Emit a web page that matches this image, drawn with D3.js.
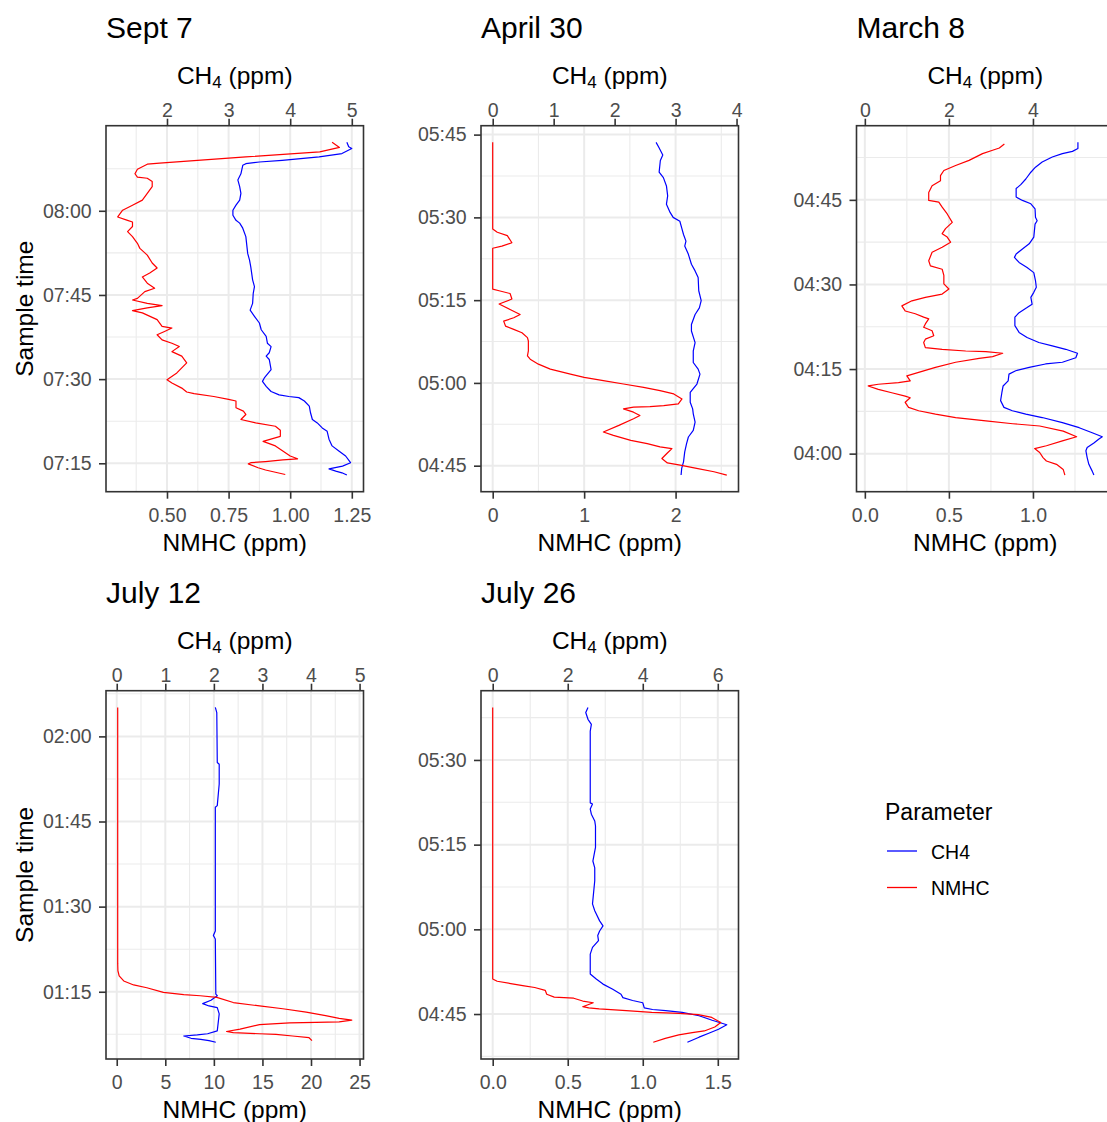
<!DOCTYPE html>
<html lang="en">
<head>
<meta charset="UTF-8">
<title>CH4 and NMHC profiles</title>
<style>
  html, body { margin: 0; padding: 0; background: #fff; overflow: hidden; }
  svg { display: block; font-family: "Liberation Sans", Arial, sans-serif; }
</style>
</head>
<body>
<svg id="chart" width="1130" height="1122"></svg>
<script src="https://d3js.org/d3.v7.min.js"></script>
<script>
// sample times are minutes after midnight, values in ppm
const sept7Nmhc = [
  [492.2,1.17],[491.3,1.20],[490.5,1.12],[489.6,0.82],[488.5,0.47],[488.3,0.42],[487.4,0.38],[486.6,0.37],
  [486.0,0.38],[485.8,0.42],[485.2,0.44],[484.3,0.44],[483.1,0.42],[481.9,0.40],[481.0,0.36],[480.1,0.32],
  [478.9,0.30],[478.3,0.34],[478.0,0.36],[477.2,0.36],[476.3,0.34],[475.4,0.36],[474.2,0.38],[473.3,0.39],
  [472.1,0.42],[470.7,0.44],[469.8,0.46],[468.9,0.43],[468.2,0.40],[467.1,0.42],[466.2,0.45],[465.6,0.41],
  [464.4,0.38],[464.1,0.36],[463.5,0.42],[463.1,0.48],[462.7,0.42],[462.2,0.36],[461.8,0.40],[460.6,0.46],
  [459.4,0.48],[459.1,0.52],[458.5,0.49],[457.9,0.46],[457.0,0.48],[456.4,0.52],[455.8,0.55],[454.9,0.52],
  [454.1,0.56],[452.9,0.58],[451.1,0.54],[449.9,0.50],[449.3,0.52],[448.4,0.56],[447.7,0.58],[447.4,0.61],
  [446.9,0.69],[446.4,0.75],[446.1,0.78],[444.9,0.78],[444.3,0.81],[443.7,0.82],[442.8,0.80],[442.2,0.86],
  [441.6,0.94],[440.9,0.96],[439.8,0.96],[438.9,0.89],[438.1,0.94],[437.2,0.97],[436.3,1.00],[435.8,1.03],
  [435.6,0.97],[435.3,0.90],[435.1,0.84],[434.9,0.83],[434.2,0.87],[433.8,0.90],[433.4,0.94],[433.0,0.98]
];
const sept7Ch4 = [
  [492.2,4.92],[491.4,4.95],[491.1,5.00],[490.2,4.84],[489.6,4.47],[489.0,3.87],[488.7,3.50],[488.4,3.28],
  [488.1,3.23],[486.6,3.20],[485.5,3.15],[484.3,3.18],[483.1,3.20],[481.9,3.18],[481.0,3.12],[480.1,3.07],
  [479.2,3.07],[478.3,3.12],[477.8,3.18],[476.9,3.23],[475.4,3.28],[472.4,3.31],[471.2,3.34],[470.0,3.36],
  [467.7,3.39],[466.5,3.42],[465.3,3.40],[463.5,3.39],[462.3,3.35],[461.2,3.42],[460.0,3.50],[458.8,3.53],
  [457.6,3.61],[456.4,3.63],[455.8,3.69],[454.7,3.66],[454.1,3.61],[453.5,3.66],[451.7,3.69],[450.2,3.58],
  [449.6,3.55],[448.7,3.61],[447.8,3.69],[447.2,3.82],[446.9,3.98],[446.7,4.14],[446.1,4.23],[445.2,4.31],
  [444.0,4.33],[442.8,4.36],[442.2,4.44],[441.3,4.52],[440.7,4.60],[439.3,4.63],[438.1,4.68],[437.2,4.79],
  [436.3,4.90],[435.1,4.98],[434.5,4.85],[434.0,4.63],[433.6,4.74],[433.3,4.84],[432.9,4.92]
];
const apr30Nmhc = [
  [343.6,0],[327.9,0],[327.3,0.05],[326.7,0.16],[325.4,0.21],[324.8,0.10],[324.4,0],[317.0,0],
  [316.7,0.07],[316.2,0.19],[315.2,0.21],[314.3,0.07],[313.3,0.19],[312.4,0.30],[311.8,0.23],[311.2,0.12],
  [310.3,0.14],[309.7,0.23],[309.1,0.32],[308.2,0.38],[307.6,0.39],[305.8,0.39],[304.9,0.38],[304.3,0.41],
  [303.4,0.50],[302.5,0.63],[301.6,0.85],[301.0,1.00],[300.4,1.21],[299.8,1.43],[299.2,1.65],[298.6,1.83],
  [298.0,1.98],[297.1,2.07],[296.2,2.03],[295.9,1.87],[295.7,1.72],[295.6,1.54],[295.3,1.43],[294.7,1.54],
  [294.1,1.61],[293.5,1.54],[292.3,1.38],[291.1,1.21],[290.5,1.32],[289.6,1.51],[289.0,1.69],[288.4,1.83],
  [288.1,1.96],[287.3,1.91],[286.3,1.85],[285.5,1.91],[285.1,2.05],[284.5,2.23],[283.9,2.42],[283.3,2.56]
];
const apr30Ch4 = [
  [343.6,2.68],[342.8,2.72],[341.3,2.79],[340.3,2.75],[338.2,2.73],[337.2,2.80],[335.7,2.85],[333.9,2.87],
  [332.4,2.85],[330.9,2.91],[330.0,2.96],[329.3,3.07],[328.1,3.10],[326.9,3.13],[325.7,3.17],[324.8,3.15],
  [323.3,3.21],[321.5,3.26],[320.3,3.32],[319.1,3.37],[316.7,3.38],[314.9,3.42],[313.6,3.39],[312.4,3.32],
  [310.6,3.26],[309.4,3.26],[307.3,3.32],[305.8,3.29],[303.7,3.29],[302.5,3.37],[301.6,3.40],[299.8,3.35],
  [298.3,3.24],[296.5,3.24],[295.3,3.28],[294.4,3.29],[292.9,3.32],[291.4,3.29],[290.2,3.21],[289.0,3.18],
  [287.5,3.15],[285.7,3.13],[284.5,3.10],[283.3,3.09]
];
const mar8Nmhc = [
  [294.9,0.83],[294.2,0.80],[293.8,0.76],[293.2,0.70],[292.0,0.62],[291.1,0.54],[290.2,0.47],[289.3,0.45],
  [288.4,0.45],[287.5,0.40],[286.3,0.38],[284.9,0.38],[284.6,0.44],[283.7,0.46],[282.5,0.49],[281.0,0.52],
  [279.9,0.48],[279.0,0.46],[278.4,0.49],[277.5,0.51],[276.6,0.46],[275.7,0.40],[274.2,0.38],[273.3,0.39],
  [272.7,0.46],[271.6,0.47],[270.1,0.47],[269.2,0.50],[268.3,0.46],[267.7,0.36],[267.1,0.28],[266.2,0.22],
  [265.3,0.24],[264.8,0.30],[264.2,0.35],[263.9,0.38],[263.0,0.36],[262.4,0.35],[261.8,0.40],[260.9,0.41],
  [260.3,0.36],[259.7,0.35],[258.8,0.36],[258.5,0.46],[258.2,0.60],[258.1,0.72],[257.8,0.82],[257.2,0.76],
  [256.9,0.68],[256.2,0.54],[255.3,0.42],[254.4,0.32],[253.8,0.25],[252.9,0.27],[252.6,0.20],[252.3,0.08],
  [252.0,0.02],[251.4,0.08],[250.8,0.16],[250.2,0.24],[249.9,0.27],[249.1,0.24],[248.2,0.26],[247.6,0.32],
  [247.0,0.42],[246.4,0.54],[245.8,0.72],[245.3,0.88],[244.9,1.04],[244.0,1.18],[243.0,1.26],[242.3,1.18],
  [241.4,1.08],[240.9,1.01],[240.2,1.04],[239.3,1.06],[238.7,1.08],[238.1,1.14],[237.2,1.18],[236.2,1.19]
];
const mar8Ch4 = [
  [295.2,5.07],[294.1,5.07],[293.6,4.94],[293.2,4.70],[292.6,4.46],[291.7,4.22],[290.8,4.06],[289.9,3.95],
  [288.7,3.83],[287.7,3.71],[287.0,3.60],[285.5,3.60],[284.9,3.75],[284.3,3.95],[283.4,4.05],[281.9,4.06],
  [281.3,4.10],[280.7,4.05],[278.4,4.02],[277.2,3.91],[276.3,3.75],[275.4,3.60],[274.8,3.56],[273.9,3.67],
  [273.0,3.86],[272.1,4.02],[270.7,4.06],[269.5,4.08],[268.6,4.02],[267.7,3.95],[266.5,3.98],[265.9,3.86],
  [265.0,3.67],[264.2,3.57],[262.7,3.57],[261.5,3.67],[260.6,3.86],[259.7,4.14],[259.1,4.46],[258.5,4.78],
  [257.8,5.06],[257.0,5.02],[256.2,4.70],[255.9,4.30],[255.3,3.91],[254.7,3.59],[254.1,3.43],[252.9,3.41],
  [252.0,3.29],[250.8,3.26],[249.4,3.23],[248.2,3.31],[247.6,3.51],[247.0,3.83],[246.4,4.22],[245.5,4.70],
  [244.6,5.10],[243.7,5.41],[243.0,5.65],[242.6,5.57],[241.9,5.45],[241.1,5.29],[240.5,5.26],[239.3,5.29],
  [238.1,5.33],[236.9,5.41],[236.2,5.45]
];
const jul12Nmhc = [
  [125.1,0.10],[80.0,0.10],[78.7,0.12],[77.8,0.25],[76.9,0.72],[76.2,1.74],[75.7,3.1],[74.9,4.8],
  [74.5,6.9],[74.3,8.6],[74.0,10.3],[73.1,12.0],[72.5,14.7],[72.0,17.1],[71.4,19.5],[70.8,21.5],
  [70.3,22.9],[70.0,24.2],[69.7,22.9],[69.6,20.5],[69.5,17.8],[69.2,14.7],[68.4,12.7],[68.0,11.3],
  [67.8,12.0],[67.6,14.7],[67.5,16.4],[67.2,18.1],[66.9,19.8],[66.4,20.1]
];
const jul12Ch4 = [
  [125.1,2.03],[124.2,2.06],[115.4,2.07],[115.1,2.11],[111.6,2.11],[107.8,2.07],[107.5,2.03],[85.7,2.03],
  [84.9,1.99],[84.3,2.03],[74.6,2.04],[74.3,2.07],[73.5,1.94],[72.9,1.77],[72.5,1.90],[72.2,2.07],
  [71.1,2.11],[68.1,2.07],[67.6,1.87],[67.4,1.66],[67.2,1.38],[66.8,1.53],[66.6,1.73],[66.4,1.90],[66.1,2.04]
];
const jul26Nmhc = [
  [339.3,0],[291.2,0],[290.8,0.03],[290.4,0.12],[290.0,0.21],[289.7,0.28],[289.2,0.35],[288.5,0.36],
  [288.0,0.41],[287.8,0.54],[287.3,0.60],[287.0,0.67],[286.3,0.60],[286.1,0.64],[285.9,0.71],[285.6,0.89],
  [285.3,1.06],[285.1,1.24],[284.9,1.37],[284.4,1.46],[283.5,1.52],[282.7,1.48],[282.0,1.41],[281.7,1.33],
  [281.3,1.24],[280.7,1.15],[280.0,1.07]
];
const jul26Ch4 = [
  [339.3,2.54],[338.4,2.48],[337.2,2.54],[336.3,2.63],[335.1,2.60],[322.4,2.60],[322.2,2.66],[321.3,2.60],
  [320.4,2.63],[319.2,2.72],[318.3,2.74],[314.5,2.74],[312.1,2.67],[310.9,2.72],[308.6,2.72],[304.5,2.66],
  [303.3,2.72],[301.5,2.85],[300.6,2.94],[299.7,2.85],[298.9,2.80],[298.0,2.82],[296.8,2.66],[295.6,2.60],
  [292.1,2.60],[291.2,2.76],[290.3,2.94],[289.4,3.20],[288.5,3.42],[287.9,3.47],[287.4,3.73],[287.0,4.00],
  [286.1,4.04],[285.8,4.26],[285.6,4.61],[285.3,5.05],[284.7,5.50],[283.9,5.85],[283.1,6.24],[282.3,6.02],
  [281.6,5.76],[280.9,5.50],[280.0,5.19]
];

// tick labels
const sept7TimeTicks = ['07:15', '07:30', '07:45', '08:00'];
const sept7NmhcTicks = ['0.50', '0.75', '1.00', '1.25'];
const sept7Ch4Ticks = ['2', '3', '4', '5'];
const apr30TimeTicks = ['04:45', '05:00', '05:15', '05:30', '05:45'];
const apr30NmhcTicks = ['0', '1', '2'];
const apr30Ch4Ticks = ['0', '1', '2', '3', '4'];
const mar8TimeTicks = ['04:00', '04:15', '04:30', '04:45'];
const mar8NmhcTicks = ['0.0', '0.5', '1.0'];
const mar8Ch4Ticks = ['0', '2', '4'];
const jul12TimeTicks = ['01:15', '01:30', '01:45', '02:00'];
const jul12NmhcTicks = ['0', '5', '10', '15', '20', '25'];
const jul12Ch4Ticks = ['0', '1', '2', '3', '4', '5'];
const jul26TimeTicks = ['04:45', '05:00', '05:15', '05:30'];
const jul26NmhcTicks = ['0.0', '0.5', '1.0', '1.5'];
const jul26Ch4Ticks = ['0', '2', '4', '6'];

const parameters = ['CH4', 'NMHC'];
const colors = { CH4: '#0000ff', NMHC: '#ff0000' };

// k: CH4 = k * NMHC on the shared axis
const panels = [
  { title: 'Sept 7', nmhc: sept7Nmhc, ch4: sept7Ch4, k: 4, times: sept7TimeTicks, bottom: sept7NmhcTicks, top: sept7Ch4Ticks, col: 0, row: 0, yTitle: true },
  { title: 'April 30', nmhc: apr30Nmhc, ch4: apr30Ch4, k: 1.5, times: apr30TimeTicks, bottom: apr30NmhcTicks, top: apr30Ch4Ticks, col: 1, row: 0 },
  { title: 'March 8', nmhc: mar8Nmhc, ch4: mar8Ch4, k: 4, times: mar8TimeTicks, bottom: mar8NmhcTicks, top: mar8Ch4Ticks, col: 2, row: 0 },
  { title: 'July 12', nmhc: jul12Nmhc, ch4: jul12Ch4, k: 0.2, times: jul12TimeTicks, bottom: jul12NmhcTicks, top: jul12Ch4Ticks, col: 0, row: 1, yTitle: true },
  { title: 'July 26', nmhc: jul26Nmhc, ch4: jul26Ch4, k: 4, times: jul26TimeTicks, bottom: jul26NmhcTicks, top: jul26Ch4Ticks, col: 1, row: 1 }
];

const colX = [106, 481, 856.5];
const rowY = [125.7, 690.7];
const boxW = 257.5;
const boxH = [366, 368.3];

const svg = d3.select('#chart');

const toMinutes = s => { const [h, m] = s.split(':'); return +h * 60 + +m; };

const padded = vals => {
  const [a, b] = d3.extent(vals);
  const pad = (b - a) * 0.05;
  return [a - pad, b + pad];
};

// midpoints of the major breaks, plus one half step past each end
const minorOf = (major, domain) => {
  const step = major[1] - major[0];
  const out = [major[0] - step / 2];
  major.forEach(v => out.push(v + step / 2));
  return out.filter(v => v > domain[0] && v < domain[1]);
};

const styleAxis = g => {
  g.select('.domain').remove();
  g.selectAll('.tick line').attr('stroke', '#333333').attr('stroke-width', 1.6);
  g.selectAll('.tick text')
    .attr('fill', '#4d4d4d')
    .style('font-size', '19.5px')
    .style('font-family', '"Liberation Sans", Arial, sans-serif');
};

panels.forEach(p => {
  const left = colX[p.col], top = rowY[p.row], h = boxH[p.row];
  const g = svg.append('g');

  const xVals = p.nmhc.map(d => d[1]).concat(p.ch4.map(d => d[1] / p.k));
  const x = d3.scaleLinear().domain(padded(xVals)).range([left, left + boxW]);
  const xTop = d3.scaleLinear().domain(x.domain().map(v => v * p.k)).range(x.range());
  const tVals = p.nmhc.map(d => d[0]).concat(p.ch4.map(d => d[0]));
  const y = d3.scaleLinear().domain(padded(tVals)).range([top + h, top]);

  const bottomVals = p.bottom.map(Number);
  const topVals = p.top.map(Number);
  const timeVals = p.times.map(toMinutes);

  // grid
  const grid = g.append('g');
  minorOf(bottomVals, x.domain()).forEach(v => {
    grid.append('line').attr('x1', x(v)).attr('x2', x(v)).attr('y1', top).attr('y2', top + h)
      .attr('stroke', '#ebebeb').attr('stroke-width', 1.1);
  });
  minorOf(timeVals, y.domain()).forEach(v => {
    grid.append('line').attr('x1', left).attr('x2', left + boxW).attr('y1', y(v)).attr('y2', y(v))
      .attr('stroke', '#ebebeb').attr('stroke-width', 1.1);
  });
  bottomVals.forEach(v => {
    grid.append('line').attr('x1', x(v)).attr('x2', x(v)).attr('y1', top).attr('y2', top + h)
      .attr('stroke', '#ebebeb').attr('stroke-width', 2);
  });
  timeVals.forEach(v => {
    grid.append('line').attr('x1', left).attr('x2', left + boxW).attr('y1', y(v)).attr('y2', y(v))
      .attr('stroke', '#ebebeb').attr('stroke-width', 2);
  });

  // series, ordered by time like geom_line
  const series = [
    { key: 'CH4', data: p.ch4, sx: xTop },
    { key: 'NMHC', data: p.nmhc, sx: x }
  ];
  series.forEach(s => {
    const pts = s.data.slice().sort((a, b) => a[0] - b[0]);
    const line = d3.line().x(d => s.sx(d[1])).y(d => y(d[0]));
    g.append('path').attr('d', line(pts))
      .attr('fill', 'none').attr('stroke', colors[s.key]).attr('stroke-width', 1.2)
      .attr('stroke-linejoin', 'round');
  });

  g.append('rect').attr('x', left).attr('y', top).attr('width', boxW).attr('height', h)
    .attr('fill', 'none').attr('stroke', '#333333').attr('stroke-width', 1.6);

  // axes
  g.append('g').attr('transform', `translate(0,${top + h})`)
    .call(d3.axisBottom(x).tickValues(bottomVals).tickFormat((d, i) => p.bottom[i]).tickSize(7).tickPadding(9.5))
    .call(styleAxis);
  g.append('g').attr('transform', `translate(0,${top})`)
    .call(d3.axisTop(xTop).tickValues(topVals).tickFormat((d, i) => p.top[i]).tickSize(7).tickPadding(1.5))
    .call(styleAxis);
  g.append('g').attr('transform', `translate(${left},0)`)
    .call(d3.axisLeft(y).tickValues(timeVals).tickFormat((d, i) => p.times[i]).tickSize(7).tickPadding(7.3))
    .call(styleAxis);

  // titles
  g.append('text').attr('x', left).attr('y', top - 88).text(p.title)
    .style('font-size', '30px').attr('fill', '#000');

  const cx = left + boxW / 2;
  const ch4Title = g.append('text').attr('x', cx).attr('y', top - 41.5)
    .attr('text-anchor', 'middle').style('font-size', '24.5px').attr('fill', '#000');
  ch4Title.append('tspan').text('CH');
  ch4Title.append('tspan').text('4').style('font-size', '17px').attr('dy', 4);
  ch4Title.append('tspan').text(' (ppm)').attr('dy', -4);

  g.append('text').attr('x', cx).attr('y', top + h + 58.8)
    .attr('text-anchor', 'middle').style('font-size', '24.5px').attr('fill', '#000')
    .text('NMHC (ppm)');

  if (p.yTitle) {
    g.append('text')
      .attr('transform', `translate(32.5,${top + h / 2}) rotate(-90)`)
      .attr('text-anchor', 'middle').style('font-size', '24.5px').attr('fill', '#000')
      .text('Sample time');
  }
});

// legend
const legend = svg.append('g').attr('transform', 'translate(885,0)');
legend.append('text').attr('x', 0).attr('y', 820).style('font-size', '23px').text('Parameter');
parameters.forEach((k, i) => {
  const ly = 851 + i * 36.5;
  legend.append('line').attr('x1', 2).attr('x2', 32).attr('y1', ly).attr('y2', ly)
    .attr('stroke', colors[k]).attr('stroke-width', 1.3);
  legend.append('text').attr('x', 46).attr('y', ly + 7.5).style('font-size', '19.5px').text(k);
});
</script>
</body>
</html>
